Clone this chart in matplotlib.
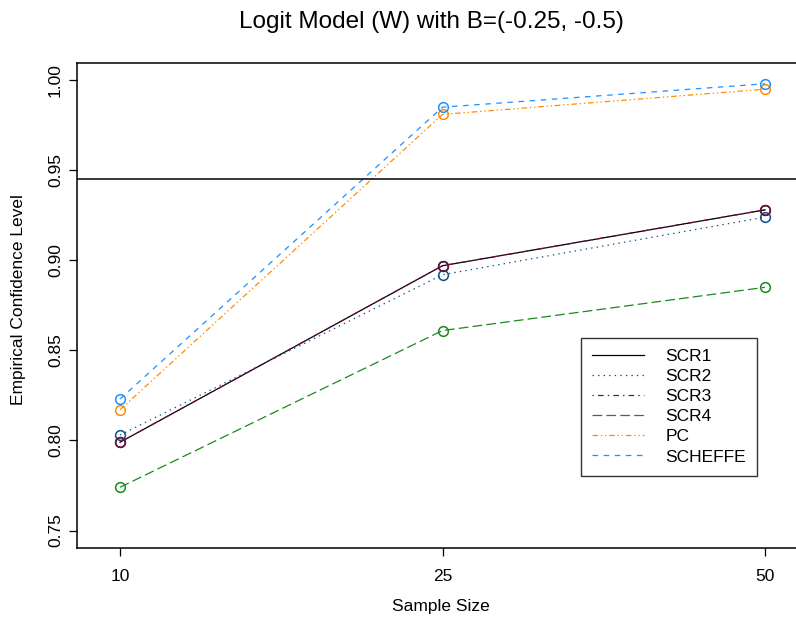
import matplotlib
matplotlib.use("Agg")
import matplotlib.pyplot as plt

plt.rcParams['font.family'] = ['Liberation Sans', 'DejaVu Sans']
plt.rcParams['lines.scale_dashes'] = False

sample_sizes = ["10", "25", "50"]
methods = ["SCR1", "SCR2", "SCR3", "SCR4", "PC", "SCHEFFE"]
scr1 = [0.799, 0.897, 0.928]
scr2 = [0.803, 0.892, 0.924]
scr3 = [0.799, 0.897, 0.928]
scr4 = [0.774, 0.861, 0.885]
pc = [0.817, 0.981, 0.995]
scheffe = [0.823, 0.985, 0.998]
nominal_level = 0.945
y_ticks = [0.75, 0.80, 0.85, 0.90, 0.95, 1.00]

series = [scr1, scr2, scr3, scr4, pc, scheffe]
colors = ["#000000", "#104E8B", "#74103F", "#1A8A1A", "#FF8C00", "#1E90FF"]
styles = [
    "-",
    (0, (1, 3)),              # dotted
    (0, (1, 3, 4, 3)),        # dot-dash
    (0, (7, 3)),              # long dash
    (0, (4, 2, 1, 2, 1, 2)),  # dash-dot-dot
    (0, (4, 4)),              # dashed
]

W, H = 796, 626
fig = plt.figure(figsize=(W / 100, H / 100), dpi=100)
left, right, top, bottom = 77, 808, 62.7, 548
ax = fig.add_axes([left / W, (H - bottom) / H, (right - left) / W, (bottom - top) / H])

xs = list(range(1, len(sample_sizes) + 1))
for name, vals, col, ls in zip(methods, series, colors, styles):
    ax.plot(xs, vals, color=col, linestyle=ls, lw=0.9, label=name,
            marker="o", markersize=7, markerfacecolor="none",
            markeredgecolor=col, markeredgewidth=1.1)

ax.axhline(nominal_level, color="black", lw=1.1)

ax.set_xlim(1 - 43 / 322.5, 3 + 43 / 322.5)
ax.set_ylim(0.7403, 1.0097)
ax.set_xticks(xs)
ax.set_xticklabels(sample_sizes, fontsize=12.5)
ax.set_yticks(y_ticks)
ax.set_yticklabels([f"{v:.2f}" for v in y_ticks], fontsize=12.5, rotation=90, va="center")
ax.tick_params(axis="x", direction="out", length=6, width=0.9, pad=9)
ax.tick_params(axis="y", direction="out", length=6, width=0.9, pad=4)
for s in ax.spines.values():
    s.set_linewidth(1.1)

fig.text(431 / W, 1 - 22 / H, "Logit Model (W) with B=(-0.25, -0.5)",
         ha="center", va="center", fontsize=17.5)
fig.text(441 / W, 1 - 607 / H, "Sample Size", ha="center", va="center", fontsize=12.5)
fig.text(19 / W, 1 - 300 / H, "Empirical Confidence Level", ha="center", va="center",
         rotation=90, fontsize=12.5)

leg = ax.legend(loc="upper left",
                bbox_to_anchor=((581 - left) / (right - left), (bottom - 338) / (bottom - top)),
                fontsize=12.5, frameon=True, fancybox=False, edgecolor="black",
                handlelength=3.0, handletextpad=1.2, borderpad=0.65, labelspacing=0.28,
                borderaxespad=0, markerscale=0)
leg.get_frame().set_linewidth(1.0)
for h in leg.legend_handles:
    h.set_marker("")

fig.savefig("out.png", dpi=100)
